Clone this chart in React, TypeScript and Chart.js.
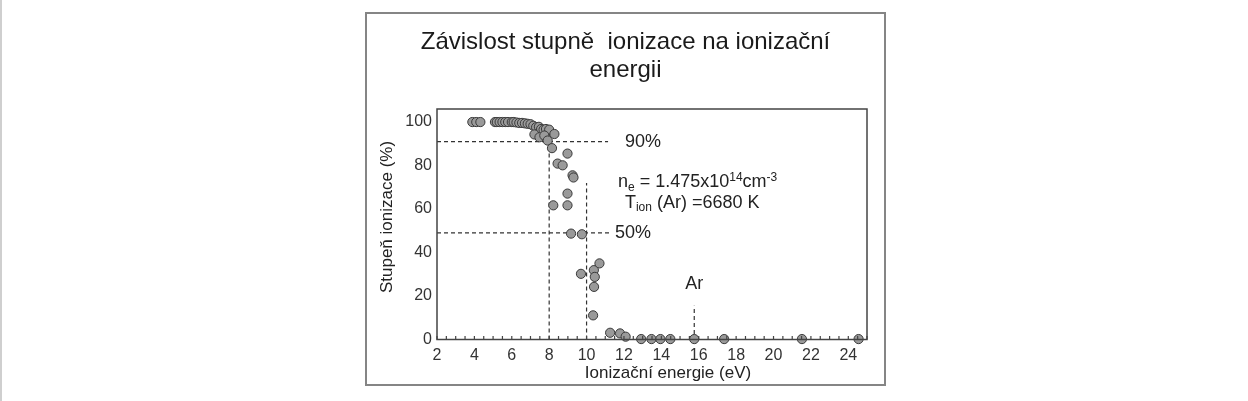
import { useEffect, useRef } from 'react'
import Chart from 'chart.js/auto'

// ionization energy (eV) and degree of ionization (%) for each element
const energyEv = [
  3.89, 4.1, 4.32,
  5.1, 5.2, 5.35, 5.5, 5.65, 5.8, 6.0, 6.1, 6.25, 6.4, 6.55, 6.7, 6.85, 7.0,
  7.15, 7.3, 7.45, 7.57, 7.7, 7.83, 8.0, 8.28,
  7.21, 7.48, 7.74, 7.92, 8.15,
  8.98, 8.45, 8.72, 9.25, 9.3, 8.98, 8.98, 8.22,
  9.17, 9.75, 9.7, 10.39, 10.69, 10.44, 10.4, 10.35,
  11.26, 11.79, 12.09, 12.92, 13.47, 13.95, 14.48, 15.76, 17.36, 21.52, 24.55,
]
const ionDegree = [
  100, 100, 100,
  100, 100, 100, 100, 100, 100, 100, 100, 99.8, 99.6, 99.6, 99.4, 99.2, 99.0,
  98.3, 97.6, 97.8, 96.8, 96.5, 96.8, 96.5, 94.5,
  94.3, 93, 93.8, 91.5, 88,
  85.5, 80.9, 80.1, 75.5, 74.5, 67.1, 61.7, 61.7,
  48.7, 48.4, 30.2, 31.9, 35, 28.8, 24.2, 11.1,
  3.1, 2.8, 1.3, 0.2, 0.2, 0.2, 0.2, 0.2, 0.2, 0.2, 0.2,
]

// dashed guide lines
const guide90X = [2, 11.15]
const guide90Y = 91
const guide50X = [2, 11.3]
const guide50Y = 49
const guide8Y = [0, 96]
const guide10Y = [0, 72]
const guideArX = 15.76
const guideArY = [2.5, 15.5]

const FONT = '"Liberation Sans", Arial, sans-serif'

type Part = [string, number, number]

function drawRich(ctx: CanvasRenderingContext2D, parts: Part[], x: number, y: number) {
  let cx = x
  for (const [text, size, dy] of parts) {
    ctx.font = `${size}px ${FONT}`
    ctx.fillText(text, cx, y + dy)
    cx += ctx.measureText(text).width
  }
}

const textPlugin = {
  id: 'figureText',
  beforeDraw(chart: any) {
    const { ctx } = chart
    ctx.save()
    ctx.fillStyle = '#fff'
    ctx.fillRect(0, 0, chart.width, chart.height)
    // page edge
    ctx.fillStyle = '#cfcfcf'
    ctx.fillRect(0, 0, 2, chart.height)
    // outer frame
    ctx.strokeStyle = '#858585'
    ctx.lineWidth = 2
    ctx.strokeRect(366, 13, 519, 372)
    ctx.restore()
  },
  afterDraw(chart: any) {
    const { ctx, chartArea: a, scales } = chart
    const xs = scales.x
    const ys = scales.y
    ctx.save()
    // plot box
    ctx.strokeStyle = '#444'
    ctx.lineWidth = 1.5
    ctx.strokeRect(a.left, a.top, a.right - a.left, a.bottom - a.top)
    // minor ticks on x axis, pointing inward
    ctx.lineWidth = 1.2
    ctx.beginPath()
    for (let v = 2; v <= 25; v += 0.5) {
      const px = xs.getPixelForValue(v)
      ctx.moveTo(px, a.bottom)
      ctx.lineTo(px, a.bottom - 3.5)
    }
    ctx.stroke()

    ctx.fillStyle = '#1a1a1a'
    ctx.textBaseline = 'middle'
    // title
    ctx.textAlign = 'center'
    ctx.font = `24px ${FONT}`
    ctx.fillText('Závislost stupně  ionizace na ionizační', 625.5, 42)
    ctx.fillText('energii', 625.5, 70)
    // axis titles
    ctx.fillStyle = '#222'
    ctx.font = `17px ${FONT}`
    ctx.fillText('Ionizační energie (eV)', 668, 373)
    ctx.save()
    ctx.translate(387, 217)
    ctx.rotate(-Math.PI / 2)
    ctx.fillText('Stupeň ionizace (%)', 0, 0)
    ctx.restore()

    // annotations
    ctx.font = `18px ${FONT}`
    ctx.fillText('Ar', xs.getPixelForValue(guideArX), ys.getPixelForValue(25.5))
    ctx.textAlign = 'left'
    ctx.fillText('90%', xs.getPixelForValue(12.05), ys.getPixelForValue(guide90Y))
    ctx.fillText('50%', xs.getPixelForValue(11.52), ys.getPixelForValue(guide50Y))
    drawRich(ctx, [
      ['n', 18, 0], ['e', 12, 5], [' = 1.475x10', 18, 0], ['14', 12, -5], ['cm', 18, 0], ['-3', 12, -5],
    ], xs.getPixelForValue(11.68), ys.getPixelForValue(72.3))
    drawRich(ctx, [
      ['T', 18, 0], ['ion', 12, 5], [' (Ar) =6680 K', 18, 0],
    ], xs.getPixelForValue(12.05), ys.getPixelForValue(62.7))
    ctx.restore()
  },
}

export default function App() {
  const canvasRef = useRef<HTMLCanvasElement>(null)

  useEffect(() => {
    if (!canvasRef.current) return

    const dashed = {
      type: 'line' as const,
      showLine: true,
      borderColor: '#333',
      borderWidth: 1.2,
      borderDash: [4, 3],
      pointRadius: 0,
      fill: false,
      order: 1,
    }

    const chart = new Chart(canvasRef.current, {
      type: 'scatter',
      data: {
        datasets: [
          {
            data: energyEv.map((x, i) => ({ x, y: ionDegree[i] })),
            backgroundColor: '#9a9a9a',
            borderColor: '#3a3a3a',
            borderWidth: 1,
            pointRadius: 4.6,
            clip: false,
            order: 0,
          },
          { ...dashed, data: guide90X.map((x) => ({ x, y: guide90Y })) },
          { ...dashed, data: guide50X.map((x) => ({ x, y: guide50Y })) },
          { ...dashed, data: guide8Y.map((y) => ({ x: 8, y })) },
          { ...dashed, data: guide10Y.map((y) => ({ x: 10, y })) },
          { ...dashed, data: guideArY.map((y) => ({ x: guideArX, y })) },
        ] as any,
      },
      options: {
        animation: false,
        responsive: true,
        maintainAspectRatio: false,
        layout: { padding: { left: 365, right: 381, top: 109, bottom: 31.5 } },
        plugins: {
          legend: { display: false },
          tooltip: { enabled: false },
        },
        scales: {
          x: {
            type: 'linear',
            min: 2,
            max: 25,
            afterFit: (s: any) => { s.height = 30 },
            grid: { display: false, drawTicks: false },
            border: { display: false },
            ticks: {
              stepSize: 2,
              includeBounds: false,
              padding: 6,
              color: '#333',
              font: { size: 16, family: FONT },
            },
          },
          y: {
            min: 0,
            max: 106,
            afterFit: (s: any) => { s.width = 72 },
            grid: { display: false, drawTicks: false },
            border: { display: false },
            ticks: {
              stepSize: 20,
              includeBounds: false,
              padding: 5,
              color: '#333',
              font: { size: 16, family: FONT },
            },
          },
        },
      },
      plugins: [textPlugin],
    })

    return () => chart.destroy()
  }, [])

  return (
    <div style={{ position: 'fixed', left: 0, top: 0, width: 1248, height: 401, background: '#fff' }}>
      <canvas ref={canvasRef}></canvas>
    </div>
  )
}
